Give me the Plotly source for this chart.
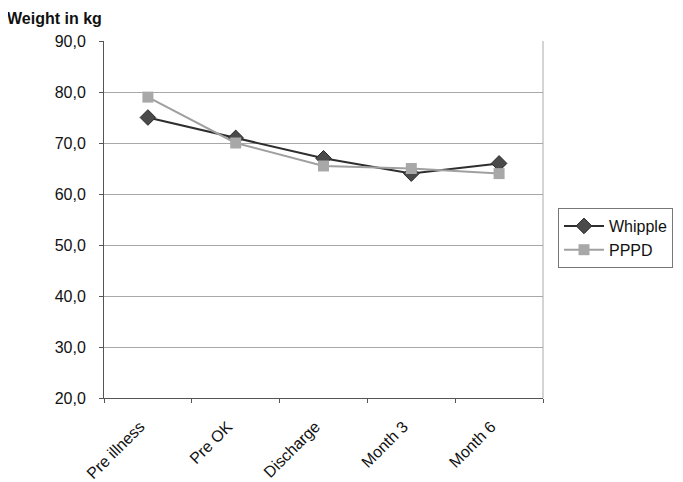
import plotly.graph_objects as go

categories = ["Pre illness", "Pre OK", "Discharge", "Month 3", "Month 6"]
whipple = [75.0, 71.0, 67.0, 64.0, 66.0]
pppd = [79.0, 70.0, 65.5, 65.0, 64.0]
y_ticks = [20, 30, 40, 50, 60, 70, 80, 90]
y_tick_labels = ["20,0", "30,0", "40,0", "50,0", "60,0", "70,0", "80,0", "90,0"]

OFF = 8  # page body margin
W, H = 683 - OFF, 482 - OFF
L, R, T, B = 104 - OFF, 140, 41 - OFF, 84
pw, ph = W - L - R, H - T - B

fig = go.Figure()
fig.add_trace(go.Scatter(
    x=categories, y=whipple, name="Whipple", mode="lines+markers",
    line=dict(color="#2e2e2e", width=2),
    marker=dict(symbol="diamond", size=12, color="#4a4a4a", line=dict(color="#2a2a2a", width=1)),
))
fig.add_trace(go.Scatter(
    x=categories, y=pppd, name="PPPD", mode="lines+markers",
    line=dict(color="#a0a0a0", width=2),
    marker=dict(symbol="square", size=11, color="#a8a8a8", line=dict(width=0)),
))

fig.update_layout(
    width=W, height=H,
    margin=dict(l=L, r=R, t=T, b=B, autoexpand=False),
    paper_bgcolor="white", plot_bgcolor="white",
    font=dict(family="Liberation Sans, Arial, sans-serif", size=16, color="#111111"),
    showlegend=True,
    legend=dict(
        x=(558 - 104) / pw, y=(398 - 208) / ph, xanchor="left", yanchor="top",
        bordercolor="#777777", borderwidth=1, bgcolor="white",
        font=dict(size=16), tracegroupgap=0, itemwidth=40,
    ),
    xaxis=dict(
        type="category", range=[-0.5, 4.5], tickangle=-45,
        tickson="boundaries", ticks="outside", ticklen=4, tickcolor="#555555",
        showline=True, linecolor="#555555", linewidth=1,
        showgrid=False, mirror=False, tickfont=dict(size=16),
        ticklabelstandoff=12, ticklabelshift=-8,
    ),
    yaxis=dict(
        range=[20, 90], tickvals=y_ticks, ticktext=y_tick_labels,
        ticks="outside", ticklen=4, tickcolor="#555555",
        showline=True, linecolor="#555555", linewidth=1,
        showgrid=True, gridcolor="#a8a8a8", gridwidth=1, zeroline=False,
        tickfont=dict(size=16), ticklabelstandoff=10,
    ),
    shapes=[dict(type="line", xref="paper", yref="paper", x0=1, x1=1, y0=0, y1=1,
                 line=dict(color="#aaaaaa", width=1))],
    annotations=[dict(
        text="<b>Weight in kg</b>", xref="paper", yref="paper",
        x=(5 - 104) / pw, y=(398 - 18) / ph, xanchor="left", yanchor="middle",
        showarrow=False, font=dict(size=16, color="#111111"),
    )],
)

fig.write_html("out.html")
